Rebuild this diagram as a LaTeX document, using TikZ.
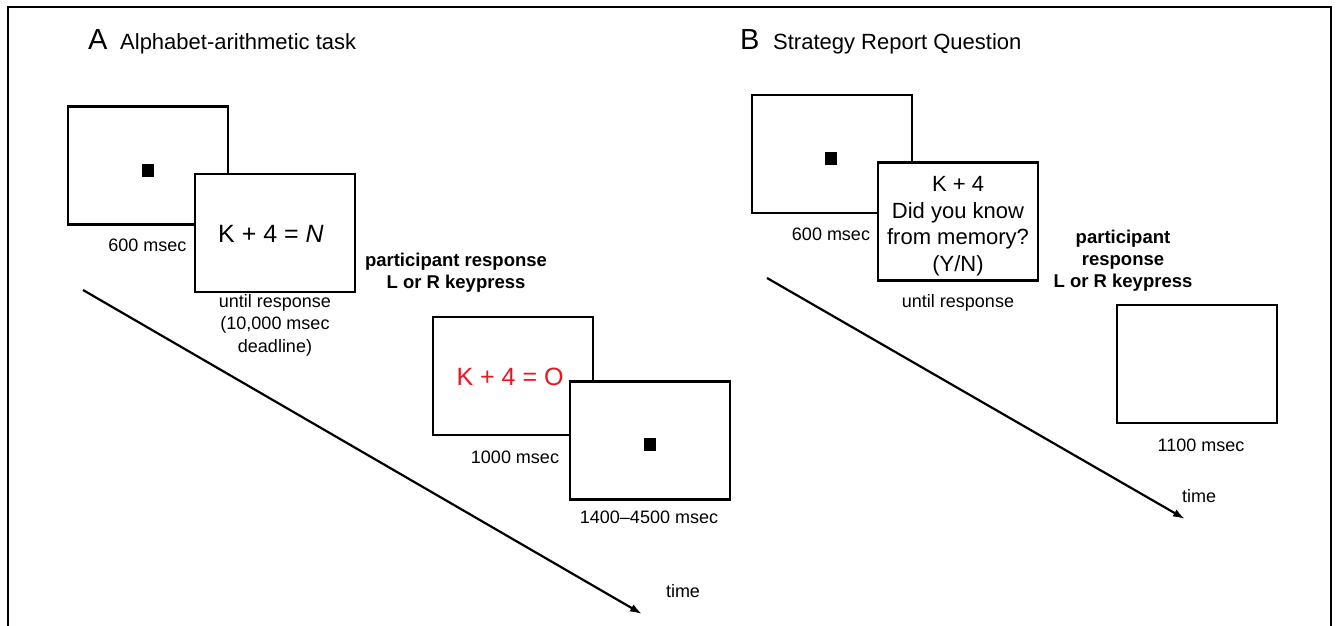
\documentclass[tikz,border=0pt]{standalone}
\usepackage{fontspec}
\setmainfont{Liberation Sans}
\usetikzlibrary{arrows.meta}
\definecolor{scrred}{RGB}{240,20,30}
\begin{document}
\begin{tikzpicture}[x=1pt,y=-1pt,
  screen/.style={draw=black,line width=2.5pt,fill=white,minimum width=160pt,minimum height=118pt,inner sep=0pt,outer sep=0pt},
  fixdot/.style={fill=black,minimum width=12pt,minimum height=13pt,inner sep=0pt},
  lbl/.style={font=\fontsize{18}{22.5}\selectfont,inner sep=0pt,align=center},
  resp/.style={font=\fontsize{18.5}{22}\selectfont\bfseries,inner sep=0pt,align=center},
  ttl/.style={font=\fontsize{22}{26}\selectfont,inner sep=0pt,anchor=base west},
  letter/.style={font=\fontsize{29}{34}\selectfont,inner sep=0pt,anchor=base west},
  eqn/.style={font=\fontsize{25}{30}\selectfont,inner sep=0pt},
  timearrow/.style={line width=2.2pt,-{Latex[length=12pt,width=8pt]}},
  frame/.style={line width=2pt}]
\useasboundingbox (0,0) rectangle (1336,626);
% outer frame
\draw[frame] (8,626) -- (8,7) -- (1331,7) -- (1331,626);

% ---------- Panel A ----------
\node[letter] (titleA) at (88,49) {A};
\node[ttl] (taskA) at (120,49) {Alphabet-arithmetic task};

\node[screen] (a1) at (148,165.5) {};
\node[fixdot] (a1dot) at (148,170) {};
\node[screen] (a2) at (275,233) {};
\node[eqn] (a2txt) at (271,234) {K + 4 = \textit{N}};
\node[lbl] (a1lbl) at (147.5,245) {600 msec};
\node[lbl] (a2lbl) at (275,325) {until response\\(10,000 msec\\deadline)};
\node[resp] (aresp) at (456,272.5) {participant response\\L or R keypress};

\node[screen] (a3) at (513,376) {};
\node[eqn,text=scrred] (a3txt) at (510,377) {K + 4 = O};
\node[screen] (a4) at (650,440.5) {};
\node[fixdot] (a4dot) at (649.5,444) {};
\node[lbl] (a3lbl) at (515,457) {1000 msec};
\node[lbl] (a4lbl) at (649,517) {1400--4500 msec};

\coordinate (tA0) at (83,290);
\coordinate (tA1) at (642,614);
\draw[timearrow] (tA0) -- (tA1);
\node[lbl] (timeA) at (683,591) {time};

% ---------- Panel B ----------
\node[letter] (titleB) at (740,49) {B};
\node[ttl] (taskB) at (773,49) {Strategy Report Question};

\node[screen] (b1) at (832,154) {};
\node[fixdot] (b1dot) at (831,158) {};
\node[screen] (b2) at (958,221.5) {};
\node[font=\fontsize{22}{26.5}\selectfont,inner sep=0pt,align=center] (b2txt) at (958,226) {K + 4\\Did you know\\from memory?\\(Y/N)};
\node[lbl] (b1lbl) at (831,234) {600 msec};
\node[lbl] (b2lbl) at (958,303) {until response};
\node[resp] (bresp) at (1123,261) {participant\\response\\L or R keypress};

\node[screen] (b3) at (1197,364) {};
\node[lbl] (b3lbl) at (1201,445) {1100 msec};

\coordinate (tB0) at (767,278);
\coordinate (tB1) at (1185,519);
\draw[timearrow] (tB0) -- (tB1);
\node[lbl] (timeB) at (1199,496) {time};
\end{tikzpicture}
\end{document}
